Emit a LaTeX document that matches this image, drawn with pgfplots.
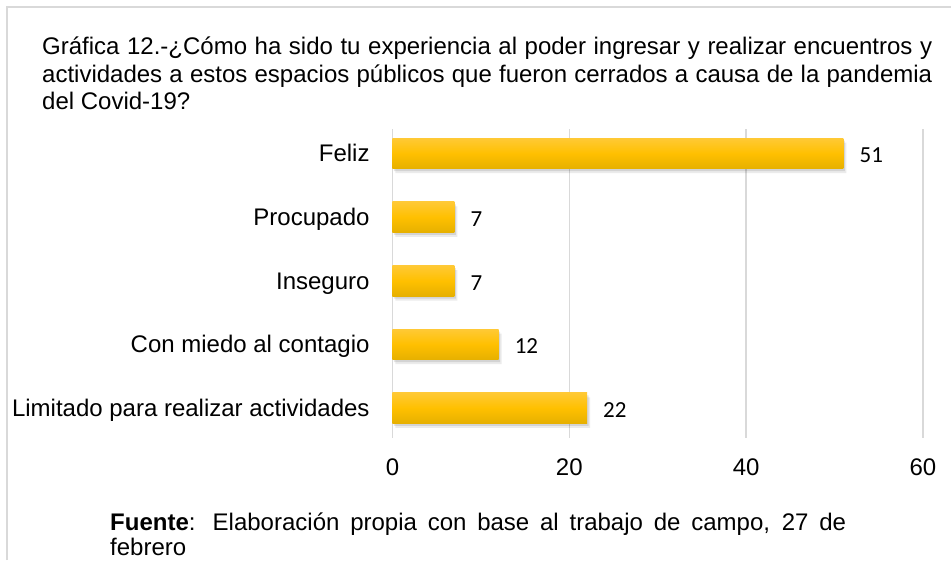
\documentclass[border=0pt]{standalone}
\usepackage{pgfplots}
\pgfplotsset{compat=1.18}
\usepackage{fontspec}
\setmainfont{Liberation Sans}
\newfontfamily\calibri{Carlito}
\definecolor{gridgray}{HTML}{D9D9D9}
\definecolor{goldtop}{HTML}{FFC935}
\definecolor{goldmid}{HTML}{FFC000}
\definecolor{goldbot}{HTML}{E6B000}
\newcommand\mainsize{\fontsize{24}{28}\selectfont}
\begin{document}
\begin{tikzpicture}[x=1pt,y=1pt]
\useasboundingbox (0,0) rectangle (951,560);
\draw[gridgray, line width=2pt] (7,0) -- (7,553) -- (951,553);
\node[anchor=base west, inner sep=0pt, font=\mainsize] at (42,505) {\makebox[890pt][s]{Gráfica 12.-¿Cómo ha sido tu experiencia al poder ingresar y realizar encuentros y}};
\node[anchor=base west, inner sep=0pt, font=\mainsize] at (42,477) {\makebox[890pt][s]{actividades a estos espacios públicos que fueron cerrados a causa de la pandemia}};
\node[anchor=base west, inner sep=0pt, font=\mainsize] at (42,450) {del Covid-19?};
\node[anchor=base west, inner sep=0pt, font=\mainsize] at (110,30) {\makebox[736pt][s]{\textbf{Fuente}: Elaboración propia con base al trabajo de campo, 27 de}};
\node[anchor=base west, inner sep=0pt, font=\mainsize] at (110,5) {febrero};
\begin{axis}[
  at={(392.5pt,122pt)}, anchor=south west,
  scale only axis, width=530.5pt, height=309pt,
  xmin=0, xmax=60, ymin=-0.47, ymax=4.385,
  xbar, bar width=30.5pt, bar shift=0pt,
  axis line style={draw=none}, tick style={draw=none},
  xmajorgrids, grid style={gridgray, line width=1.5pt},
  xtick={0,20,40,60}, ytick={0,1,2,3,4},
  yticklabels={Limitado para realizar actividades, Con miedo al contagio, Inseguro, Procupado, Feliz},
  /pgf/number format/assume math mode=true,
  xticklabel style={anchor=base, inner sep=0pt, yshift=-38pt, font=\mainsize},
  yticklabel style={anchor=base east, inner sep=0pt, xshift=-18.5pt, yshift=-8.5pt, font=\mainsize},
  clip=false,
  shad1/.style={draw=none, fill=black, opacity=0.10, xshift=1.5pt, yshift=-2.5pt, forget plot},
  shad2/.style={draw=none, fill=black, opacity=0.08, xshift=3pt, yshift=-4.5pt, forget plot},
  goldbar/.style={draw=none, top color=goldtop, bottom color=goldbot, middle color=goldmid,
    nodes near coords,
    nodes near coords style={anchor=base west, inner sep=0pt, xshift=16pt, yshift=-9.5pt, font=\calibri\fontsize{23}{27}\selectfont, text=black, opacity=1}}
]
\addplot[shad2] coordinates {(22,0) (12,1) (7,2) (7,3) (51,4)};
\addplot[shad1] coordinates {(22,0) (12,1) (7,2) (7,3) (51,4)};
\addplot[goldbar] coordinates {(22,0)};
\addplot[goldbar] coordinates {(12,1)};
\addplot[goldbar] coordinates {(7,2)};
\addplot[goldbar] coordinates {(7,3)};
\addplot[goldbar] coordinates {(51,4)};
\end{axis}
\end{tikzpicture}
\end{document}
